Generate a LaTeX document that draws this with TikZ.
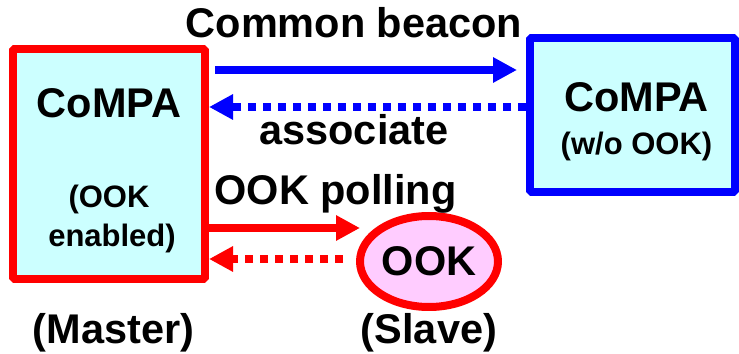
\documentclass[tikz,border=0pt]{standalone}
\usepackage{fontspec}
\setmainfont{Liberation Sans}
\usetikzlibrary{arrows.meta,shapes.geometric}
\definecolor{boxcyan}{HTML}{CCFFFF}
\definecolor{ookpink}{HTML}{FFCCFF}
\begin{document}
\begin{tikzpicture}[>={Triangle[length=24bp,width=24bp]},line join=bevel,
  big/.style={font=\bfseries\fontsize{41.5bp}{48bp}\selectfont,anchor=base,inner sep=0pt},
  small/.style={font=\bfseries\fontsize{31bp}{37bp}\selectfont,anchor=base,inner sep=0pt},
  unit/.style={draw,line width=8bp,fill=boxcyan,inner sep=0pt},
  link/.style={line width=8bp,->},
  dots/.style={dash pattern=on 8bp off 7bp},]
%%
\useasboundingbox (0bp,0bp) rectangle (739bp,354bp);
\node (node_master) at (109bp,189.5bp) [unit,draw=red,minimum width=192bp,minimum height=230bp] {};
  \node (node_plain) at (632.25bp,238.75bp) [unit,draw=blue,minimum width=204.5bp,minimum height=154.5bp] {};
  \node (node_ook) at (429bp,92.5bp) [unit,ellipse,draw=red,fill=ookpink,minimum width=138bp,minimum height=91bp,font=\bfseries\fontsize{41.5bp}{48bp}\selectfont] {OOK};
%
\node (node_compa_m) at (109bp,236bp) [big] {CoMPA};
  \node (node_ook_m) at (109bp,146bp) [small] {(OOK};
  \node (node_enabled_m) at (112bp,107bp) [small] {enabled)};
  \node (node_master_lbl) at (113.5bp,11bp) [big] {(Master)};
  \node (node_compa_p) at (636.5bp,242bp) [big] {CoMPA};
  \node (node_wo_p) at (636.5bp,199bp) [small] {(w/o OOK)};
  \node (node_slave_lbl) at (429bp,11bp) [big] {(Slave)};
%
\node (node_beacon) at (354bp,316bp) [big] {Common beacon};
  \node (node_assoc) at (354bp,209bp) [big] {associate};
  \node (node_poll) at (335.5bp,149bp) [big] {OOK polling};
%
\draw [link,blue,shorten <=6bp,shorten >=9bp] (node_master.east |- 0bp,284bp) -- (node_plain.west |- 0bp,284bp);
  \draw [link,blue,dots] (node_plain.west |- 0bp,247bp) -- (node_master.east |- 0bp,247bp);
  \draw [link,red,shorten >=-4bp] (node_master.east |- 0bp,126bp) -- (node_ook.west |- 0bp,126bp);
  \draw [link,red,dots,shorten <=13bp] (node_ook.west |- 0bp,95bp) -- (node_master.east |- 0bp,95bp);
%
\end{tikzpicture}
\end{document}
